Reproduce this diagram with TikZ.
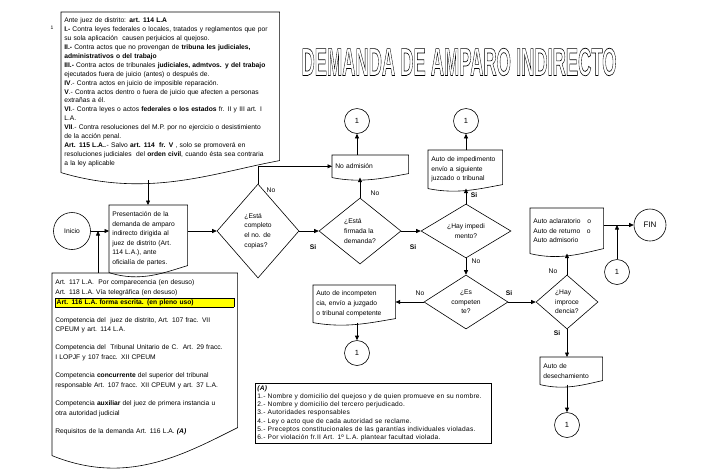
\documentclass[tikz,border=0pt]{standalone}
\usepackage{fontspec}
\setmainfont{Liberation Sans}
\usetikzlibrary{arrows.meta,positioning,calc,shapes.geometric}

\definecolor{hlyellow}{RGB}{255,255,0}
\newcommand{\txt}{\fontsize{6.7}{8.9}\selectfont}
\newcommand{\formtxt}{\fontsize{6.7}{9.9}\selectfont}
\newcommand{\flowtxt}{\fontsize{6.7}{9.6}\selectfont}
\newcommand{\reqtxt}{\fontsize{6.6}{8.3}\selectfont\addfontfeatures{LetterSpace=4}}
% hollow letters (stroke only)
\newcommand{\hueca}[1]{\special{pdf:literal direct 1 Tr 0.7 w}#1\special{pdf:literal direct 0 Tr}}
% wavy bottom of a document box: node, rise of right end, dip
\newcommand{\docframe}[3]{%
  \draw (#1.south west) -- (#1.north west) -- (#1.north east) -- ($(#1.south east)+(0,-#2)$)
    .. controls ($(#1.south east)!0.3!(#1.south west)$) and ($(#1.south west)!0.4!(#1.south east)+(0,#3)$) .. (#1.south west);}

\tikzset{
  docnode/.style={rectangle, anchor=north west, inner xsep=3pt, inner ysep=1pt, align=left, font=\flowtxt},
  decision/.style={diamond, draw, inner sep=0pt, font=\flowtxt},
  onpage/.style={circle, draw, inner sep=0pt, minimum size=25pt, font=\fontsize{7.5}{9}\selectfont},
  arr/.style={-{Triangle[length=4.5pt,width=4pt]}},
  lbl/.style={font=\fontsize{6.7}{8}\selectfont, inner sep=0pt},
}

\begin{document}
\begin{tikzpicture}[x=1pt,y=-1pt,line width=0.6pt]

	\useasboundingbox (0,0) rectangle (727,475);

	\node[font=\fontsize{5}{6}\selectfont] (pag) at (52,28) {1};

	\node (titulo) at (459,62)
	{\scalebox{0.47}[1]{\fontsize{39}{40}\selectfont\bfseries\hueca{DEMANDA DE AMPARO INDIRECTO}}};

	% documents
	\node[docnode, font=\txt, text width=212pt, minimum height=160pt] (leyes) at (61,12)
	{Ante juez de distrito: \textbf{art. 114 L.A}\\
	\textbf{I.-} Contra leyes federales o locales, tratados y reglamentos que por\\
	su sola aplicación\ \ causen perjuicios al quejoso.\\
	\textbf{II.-} Contra actos que no provengan de \textbf{tribuna les judiciales,}\\
	\textbf{administrativos o del trabajo}\\
	\textbf{III.-} Contra actos de tribunales \textbf{judiciales, admtvos. y del trabajo}\\
	ejecutados fuera de juicio (antes) o después de.\\
	\textbf{IV}.- Contra actos en juicio de imposible reparación.\\
	\textbf{V}.- Contra actos dentro o fuera de juicio que afecten a personas\\
	extrañas a él.\\
	\textbf{VI}.- Contra leyes o actos \textbf{federales o los estados} fr. II y III art. I\\
	L.A.\\
	\textbf{VII}.- Contra resoluciones del M.P. por no ejercicio o desistimiento\\
	de la acción penal.\\
	\textbf{Art. 115 L.A.}.- Salvo \textbf{art. 114\ \ fr. V} , solo se promoverá en\\
	resoluciones judiciales\ \ del \textbf{orden civil}, cuando ésta sea contraria\\
	a la ley aplicable};
	\docframe{leyes}{12}{26}

	\node[docnode, text width=72pt, minimum height=67pt] (presenta) at (109,205)
	{Presentación\ de la\\demanda de amparo\\indirecto dirigida al\\juez de distrito (Art.\\114 L.A.), ante\\oficialía de partes.};
	\docframe{presenta}{7}{10}

	\node[docnode, font=\formtxt, text width=179pt, minimum height=182pt] (formas) at (52,273)
	{Art. 117 L.A.\ \ Por comparecencia (en desuso)\\
	Art. 118 L.A. Vía telegráfica (en desuso)\\
	{\setlength{\fboxsep}{1pt}\fcolorbox{black}{hlyellow}{\makebox[\dimexpr\linewidth-2.8pt][l]{\textbf{Art. 116 L.A. forma escrita. (en pleno uso)}}}}\\[8pt]
	Competencia del\ \ juez de distrito, Art. 107 frac. VII\\
	CPEUM y art. 114 L.A.\\[8pt]
	Competencia del\ \ Tribunal Unitario de C.\ \ Art. 29 fracc.\\
	I LOPJF y 107 fracc. XII CPEUM\\[8pt]
	Competencia \textbf{concurrente} del superior del tribunal\\
	responsable Art. 107 fracc. XII CPEUM y art. 37 L.A.\\[8pt]
	Competencia \textbf{auxiliar} del juez de primera instancia u\\
	otra autoridad judicial\\[8pt]
	Requisitos de la demanda Art. 116 L.A. \textbf{\textit{(A)}}\\[6pt]
	~};
	\docframe{formas}{28}{30}

	\node[draw, anchor=north west, align=left, font=\reqtxt, inner xsep=2pt, inner ysep=2pt,
	text width=232pt, minimum height=59pt] (requisitos) at (255,383)
	{\textbf{\textit{(A)}}\\
	1.- Nombre y domicilio del quejoso y de quien promueve en su nombre.\\
	2.- Nombre y domicilio del tercero perjudicado.\\
	3.- Autoridades responsables\\
	4.- Ley o acto que de cada autoridad se reclame.\\
	5.- Preceptos constitucionales de las garantías individuales violadas.\\
	6.- Por violación fr.II Art. 1º L.A. plantear facultad violada.};

	% flow
	\node[circle, draw, minimum size=37pt, inner sep=0pt, font=\flowtxt] (inicio) at (72,231) {Inicio};

	\node[decision, align=left, minimum width=82pt, minimum height=94pt] (copias) at (258,231)
	{¿Está\\completo\\el no. de\\copias?};

	\node[docnode, text width=70pt, minimum height=22pt] (noadm) at (332,155) {No admisión};
	\docframe{noadm}{4}{6}

	\node[onpage] (unoa) at (357,121) {1};

	\node[decision, align=left, minimum width=82pt, minimum height=66pt] (firmada) at (360,231)
	{¿Está\\firmada la\\demanda?};

	\node[decision, align=center, minimum width=90pt, minimum height=54pt] (impedi) at (466,231)
	{¿Hay impedi\\mento?};

	\node[docnode, text width=68pt, minimum height=38pt] (impauto) at (428,150)
	{Auto de impedimento\\envío a siguiente\\juzcado o tribunal};
	\docframe{impauto}{4}{6}

	\node[onpage] (unob) at (466,121) {1};

	\node[decision, align=center, minimum width=84pt, minimum height=54pt] (compe) at (466,302)
	{¿Es\\competen\\te?};

	\node[docnode, text width=76pt, minimum height=37pt] (incomp) at (313,285)
	{Auto de incompeten\\cia, envío a juzgado\\o tribunal competente};
	\docframe{incomp}{4}{6}

	\node[onpage] (unoc) at (357,353) {1};

	\node[decision, align=left, minimum width=62pt, minimum height=54pt] (improc) at (567,302)
	{¿Hay\\improce\\dencia?};

	\node[docnode, text width=67pt, minimum height=45pt] (aclara) at (530,208)
	{Auto aclaratorio\ \ \ o\\Auto de returno\ \ \ o\\Auto admisorio};
	\docframe{aclara}{5}{7}

	\node[circle, draw, minimum size=32pt, inner sep=0pt, font=\fontsize{8}{9}\selectfont] (fin) at (650,225) {FIN};

	\node[onpage] (unod) at (617,272) {1};

	\node[docnode, text width=56pt, minimum height=27pt] (desecha) at (540,357)
	{Auto de\\desechamiento};
	\docframe{desecha}{4}{6}

	\node[onpage] (unoe) at (567,425) {1};

	% labels
	\node[lbl] (lnocop) at (271,190) {No};
	\node[lbl] (lsicop) at (313,247) {\textbf{Si}};
	\node[lbl] (lnofir) at (375,193) {No};
	\node[lbl] (lsifir) at (413,247) {\textbf{Si}};
	\node[lbl] (lsiimp) at (474,195) {\textbf{Si}};
	\node[lbl] (lnoimp) at (476,261) {No};
	\node[lbl] (lnocom) at (420,293) {No};
	\node[lbl] (lsicom) at (509,293) {\textbf{Si}};
	\node[lbl] (lnopro) at (553,271) {No};
	\node[lbl] (lsipro) at (557,333) {\textbf{Si}};

	% connectors
	\coordinate (topout) at (148,180);
	\coordinate (junta) at (98,231);

	\draw[arr] (topout) -- (topout |- presenta.north);
	\draw[arr] (inicio.east) -- (presenta.west |- inicio.east);
	\draw[arr] (formas.north -| junta) -- (junta);
	\draw[arr] (presenta.east |- copias.west) -- (copias.west);
	\draw[arr] (copias.north) |- (noadm.west);
	\draw[arr] (copias.east) -- (firmada.west);
	\draw[arr] (firmada.north) -- (firmada.north |- noadm.south);
	\draw[arr] (noadm.north -| unoa) -- (unoa.south);
	\draw[arr] (firmada.east) -- (impedi.west);
	\draw[arr] (impedi.north) -- (impedi.north |- impauto.south);
	\draw[arr] (impauto.north -| unob) -- (unob.south);
	\draw[arr] (impedi.south) -- (compe.north);
	\draw[arr] (compe.west) -- (incomp.east |- compe.west);
	\draw[arr] (incomp.south -| unoc) -- (unoc.north);
	\draw[arr] (compe.east) -- (improc.west);
	\draw[arr] (improc.north) -- (improc.north |- aclara.south);
	\draw[arr] (aclara.east |- fin.west) -- (fin.west);
	\draw[arr] (unod.north) -- (unod.north |- fin.west);
	\draw[arr] (improc.south) -- (improc.south |- desecha.north);
	\draw[arr] (desecha.south -| unoe) -- (unoe.north);

\end{tikzpicture}
\end{document}
